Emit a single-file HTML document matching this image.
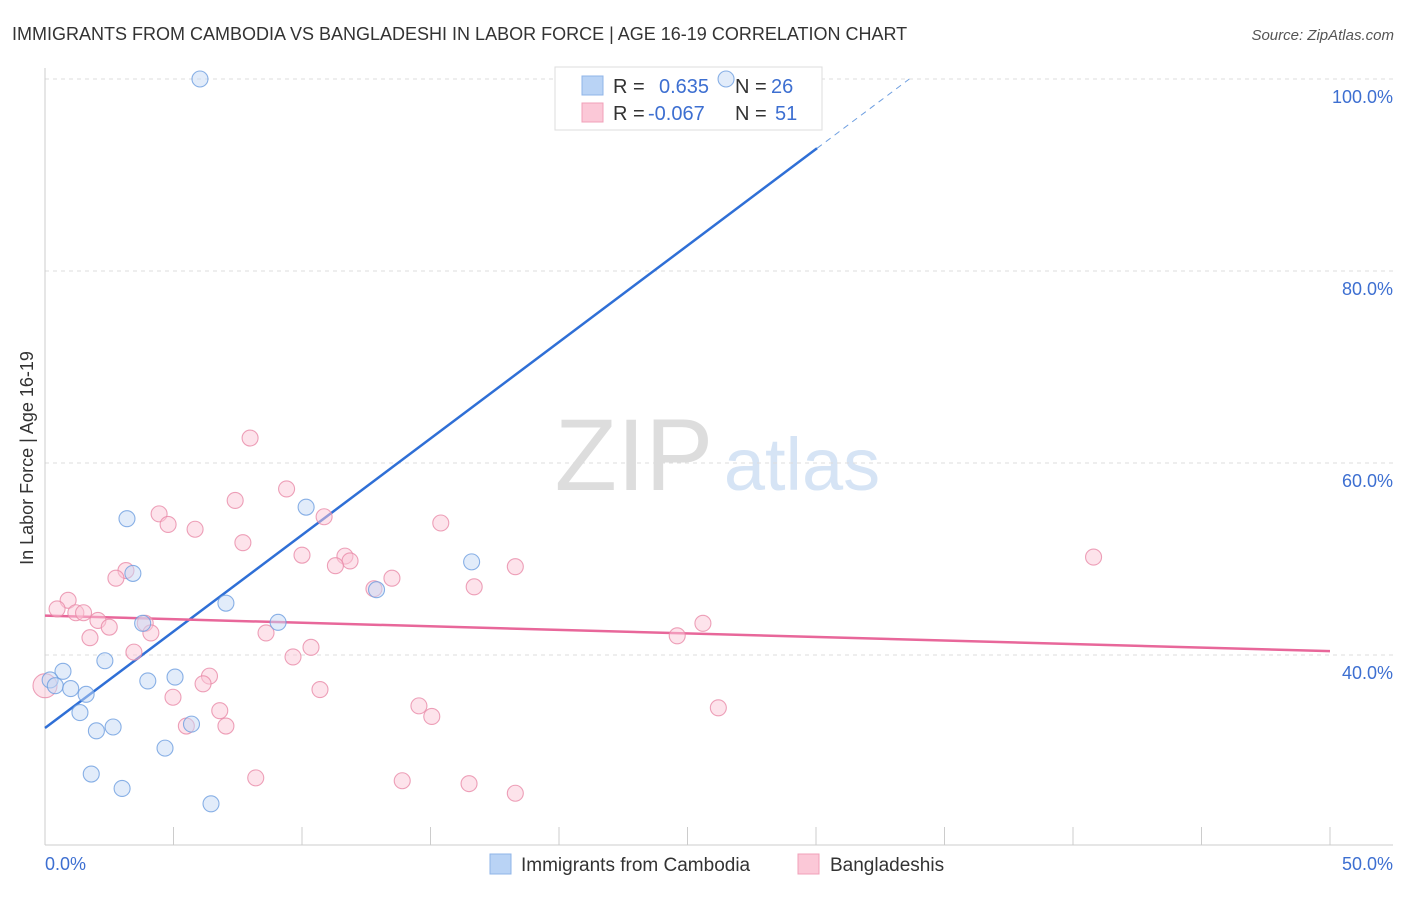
<!DOCTYPE html>
<html><head><meta charset="utf-8"><style>
body{margin:0;background:#fff;font-family:"Liberation Sans",sans-serif;}
svg text{font-family:"Liberation Sans",sans-serif;}
</style></head><body>
<svg id="chart" width="1406" height="892" xmlns="http://www.w3.org/2000/svg">
<text x="12" y="40" font-size="18" fill="#333">IMMIGRANTS FROM CAMBODIA VS BANGLADESHI IN LABOR FORCE | AGE 16-19 CORRELATION CHART</text>
<text x="1394" y="40" font-size="15" fill="#555" text-anchor="end" font-style="italic">Source: ZipAtlas.com</text>
<text x="33" y="458" font-size="18" fill="#333" text-anchor="middle" transform="rotate(-90 33 458)">In Labor Force | Age 16-19</text>
<g>
<text x="634" y="490" font-size="102" fill="#ddd" text-anchor="middle" font-family="Liberation Serif">ZIP</text>
<text x="802" y="490" font-size="74" fill="#d6e4f5" text-anchor="middle">atlas</text>
</g>
<g id="grid"></g><g id="axes"></g><g id="lines"></g>
<g>
<rect x="555" y="67" width="267" height="63" fill="#fff" stroke="#ddd"/>
<rect x="582" y="76" width="21" height="19" fill="#b9d3f5" stroke="#8fb5e8"/>
<rect x="582" y="103" width="21" height="19" fill="#fbc8d7" stroke="#f0a0b8"/>
<text x="613" y="93" font-size="20" fill="#333">R =</text>
<text x="659" y="93" font-size="20" fill="#3d6fd1">0.635</text>
<text x="735" y="93" font-size="20" fill="#333">N =</text>
<text x="771" y="93" font-size="20" fill="#3d6fd1">26</text>
<text x="613" y="120" font-size="20" fill="#333">R =</text>
<text x="648" y="120" font-size="20" fill="#3d6fd1">-0.067</text>
<text x="735" y="120" font-size="20" fill="#333">N =</text>
<text x="775" y="120" font-size="20" fill="#3d6fd1">51</text>
</g>
<g id="pts"></g>
<g>
<rect x="490" y="854" width="21" height="20" fill="#b9d3f5" stroke="#8fb5e8"/>
<text x="521" y="871" font-size="19" fill="#333">Immigrants from Cambodia</text>
<rect x="798" y="854" width="21" height="20" fill="#fbc8d7" stroke="#f0a0b8"/>
<text x="830" y="871" font-size="19" fill="#333">Bangladeshis</text>
</g>
</svg>
<script>
const xTicks=[0,50];
const yTicks=[40,60,80,100];
const blueX=[6.03,26.5,3.19,3.42,10.16,16.6,12.9,7.04,9.07,3.8,2.33,0.7,0.2,0.4,1.0,1.6,4.0,5.06,1.36,2.0,2.65,5.7,4.67,1.8,3.0,6.46];
const blueY=[100,100,54.2,48.5,55.4,49.7,46.8,45.4,43.4,43.3,39.4,38.3,37.4,36.8,36.5,35.9,37.3,37.7,34.0,32.1,32.5,32.8,30.3,27.6,26.1,24.5];
const pinkX=[7.98,9.4,7.4,4.44,4.79,5.84,10.86,15.4,7.7,10.0,11.67,11.87,11.3,18.3,40.8,3.15,2.76,13.5,16.7,12.8,0.9,0.47,1.2,1.5,2.06,2.5,3.9,4.12,1.75,8.6,24.6,25.6,10.35,3.46,9.65,6.4,6.15,10.7,4.98,6.8,14.55,15.05,26.2,5.5,7.04,8.2,13.9,16.5,18.3,0];
const pinkY=[62.6,57.3,56.1,54.7,53.6,53.1,54.4,53.75,51.7,50.4,50.3,49.8,49.3,49.2,50.2,48.8,48.0,48.0,47.1,46.9,45.7,44.8,44.4,44.4,43.6,42.9,43.3,42.3,41.8,42.3,42.0,43.3,40.8,40.3,39.8,37.8,37.0,36.4,35.6,34.2,34.7,33.6,34.5,32.6,32.6,27.2,26.9,26.6,25.6,36.8];
const blueTrend=[32.4,2.01];   // intercept, slope
const pinkTrend=[44.1,-0.074];
const X=v=>45+v*25.7, Y=v=>79+(100-v)*9.6;
const NS="http://www.w3.org/2000/svg";
function mk(t,a,p){const e=document.createElementNS(NS,t);for(const k in a)e.setAttribute(k,a[k]);p.appendChild(e);return e;}
const grid=document.getElementById('grid'),axes=document.getElementById('axes'),lines=document.getElementById('lines'),pts=document.getElementById('pts');
yTicks.forEach(v=>{
 const l=mk('line',{x1:45,x2:1393,y1:Y(v),y2:Y(v),stroke:'#ddd','stroke-dasharray':'4,4'},grid);
 
 
 const t=mk('text',{x:1393,y:Y(v)+24,'font-size':18,fill:'#3d6fd1','text-anchor':'end'},axes);
 t.textContent=v.toFixed(1)+'%';
 
 
});
mk('line',{x1:45,x2:45,y1:68,y2:845,stroke:'#ccc'},axes);
mk('line',{x1:45,x2:1393,y1:845,y2:845,stroke:'#ccc'},axes);
for(let i=0;i<=10;i++){const tk=mk('line',{x1:X(i*5),x2:X(i*5),y1:827,y2:845,stroke:'#ccc'},axes);
 
 }
xTicks.forEach((v,i)=>{const t=mk('text',{x:i?1393:45,y:870,'font-size':18,fill:'#3d6fd1','text-anchor':i?'end':'start'},axes);
 t.textContent=v.toFixed(1)+'%';
 
 });
function pt(x,y,f,s,name,r){const c=mk('circle',{cx:X(x),cy:Y(y),r:r,fill:f,'fill-opacity':0.5,stroke:s,'stroke-width':1.1,'stroke-opacity':0.8},pts);
 
 }
pinkX.forEach((x,i)=>pt(x,pinkY[i],'#fbc8d7','#e88aa8','bangladeshi-point',x===0?12:8));
blueX.forEach((x,i)=>pt(x,blueY[i],'#c5daf5','#6d9ee0','cambodia-point',8));
const bx1=30.04;
const bl=mk('line',{x1:X(0),y1:Y(blueTrend[0]),x2:X(bx1),y2:Y(blueTrend[0]+blueTrend[1]*bx1),stroke:'#2f6fd6','stroke-width':2.5},lines);


const bx2=(100-blueTrend[0])/blueTrend[1];
const bd=mk('line',{x1:X(bx1),y1:Y(blueTrend[0]+blueTrend[1]*bx1),x2:X(bx2),y2:Y(100),stroke:'#6d9ee0','stroke-width':1,'stroke-dasharray':'6,5'},lines);


const pl=mk('line',{x1:X(0),y1:Y(pinkTrend[0]),x2:X(50),y2:Y(pinkTrend[0]+pinkTrend[1]*50),stroke:'#e8679a','stroke-width':2.5},lines);


</script>
</body></html>
